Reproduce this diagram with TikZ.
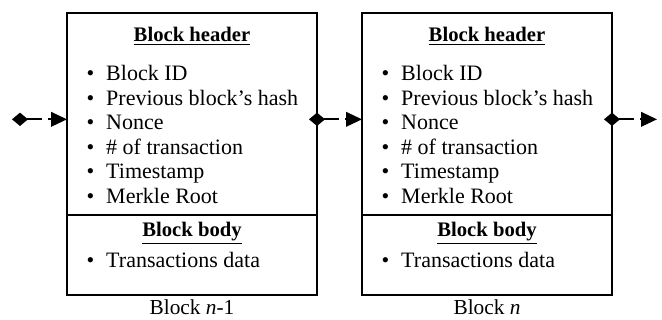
\documentclass[tikz,border=0pt]{standalone}
\usepackage{fontspec}
\setmainfont{Liberation Serif}
\usetikzlibrary{arrows.meta,positioning}

\begin{document}
\begin{tikzpicture}[
    blockbox/.style={draw, rectangle, line width=1.2pt, outer sep=0pt, minimum width=187.5pt},
    headtitle/.style={font=\fontsize{15.5}{18}\selectfont\bfseries, inner sep=0pt, anchor=base},
    itemlist/.style={font=\fontsize{16.5}{18.4}\selectfont, align=left, inner sep=0pt, anchor=north west},
    blocklabel/.style={font=\fontsize{16}{18}\selectfont, inner sep=0pt, anchor=base},
    linkstart/.style={line width=1.3pt, {Diamond[length=12pt, width=10pt]}-, shorten <=-6pt},
    linkend/.style={line width=1.3pt, -{Triangle[length=12pt, width=11pt]}}
  ]
    \useasboundingbox (0,0) rectangle (496.5pt,-240pt);
    \newcommand{\bitem}[1]{\makebox[14.8pt][l]{\textbullet}#1}

    % Block n-1
    \node (hdr1) [blockbox, minimum height=151.5pt, anchor=north west] at (50.25pt,-9.75pt) {};
    \node (body1) [blockbox, minimum height=60pt, below=0pt of hdr1] {};
    \node (htitle1) [headtitle] at ([yshift=-21.75pt]hdr1.north) {\underline{Block header}};
    \node (hlist1) [itemlist] at ([xshift=14.45pt, yshift=-39.2pt]hdr1.north west)
      {\bitem{Block ID}\\ \bitem{Previous block’s hash}\\ \bitem{Nonce}\\
       \bitem{\# of transaction}\\ \bitem{Timestamp}\\ \bitem{Merkle Root}};
    \node (btitle1) [headtitle] at ([yshift=-16.5pt]body1.north) {\underline{Block body}};
    \node (blist1) [itemlist] at ([xshift=14.45pt, yshift=-28pt]body1.north west)
      {\bitem{Transactions data}};
    \node (label1) [blocklabel] at ([yshift=-15pt]body1.south) {Block \textit{n}-1};

    % Block n
    \node (hdr2) [blockbox, minimum height=151.5pt, right=33.75pt of hdr1] {};
    \node (body2) [blockbox, minimum height=60pt, below=0pt of hdr2] {};
    \node (htitle2) [headtitle] at ([yshift=-21.75pt]hdr2.north) {\underline{Block header}};
    \node (hlist2) [itemlist] at ([xshift=14.45pt, yshift=-39.2pt]hdr2.north west)
      {\bitem{Block ID}\\ \bitem{Previous block’s hash}\\ \bitem{Nonce}\\
       \bitem{\# of transaction}\\ \bitem{Timestamp}\\ \bitem{Merkle Root}};
    \node (btitle2) [headtitle] at ([yshift=-16.5pt]body2.north) {\underline{Block body}};
    \node (blist2) [itemlist] at ([xshift=14.45pt, yshift=-28pt]body2.north west)
      {\bitem{Transactions data}};
    \node (label2) [blocklabel] at ([yshift=-15pt]body2.south) {Block \textit{n}};

    % Link points
    \coordinate (in1) at ([yshift=-4pt]hdr1.west);
    \coordinate (out1) at ([yshift=-4pt]hdr1.east);
    \coordinate (in2) at ([yshift=-4pt]hdr2.west);
    \coordinate (out2) at ([yshift=-4pt]hdr2.east);
    \coordinate (src0) at ([xshift=-35.25pt]in1);
    \coordinate (mid0) at ([xshift=16.5pt]src0);
    \coordinate (gap0) at ([xshift=21pt]src0);
    \coordinate (mid1) at ([xshift=16.5pt]out1);
    \coordinate (gap1) at ([xshift=21pt]out1);
    \coordinate (mid2) at ([xshift=16.5pt]out2);
    \coordinate (gap2) at ([xshift=21pt]out2);
    \coordinate (dst2) at ([xshift=33.75pt]out2);

    % Arrows
    \draw[linkstart] (src0) -- (mid0);
    \draw[linkend] (gap0) -- (in1);
    \draw[linkstart] (out1) -- (mid1);
    \draw[linkend] (gap1) -- (in2);
    \draw[linkstart] (out2) -- (mid2);
    \draw[linkend] (gap2) -- (dst2);
\end{tikzpicture}
\end{document}
